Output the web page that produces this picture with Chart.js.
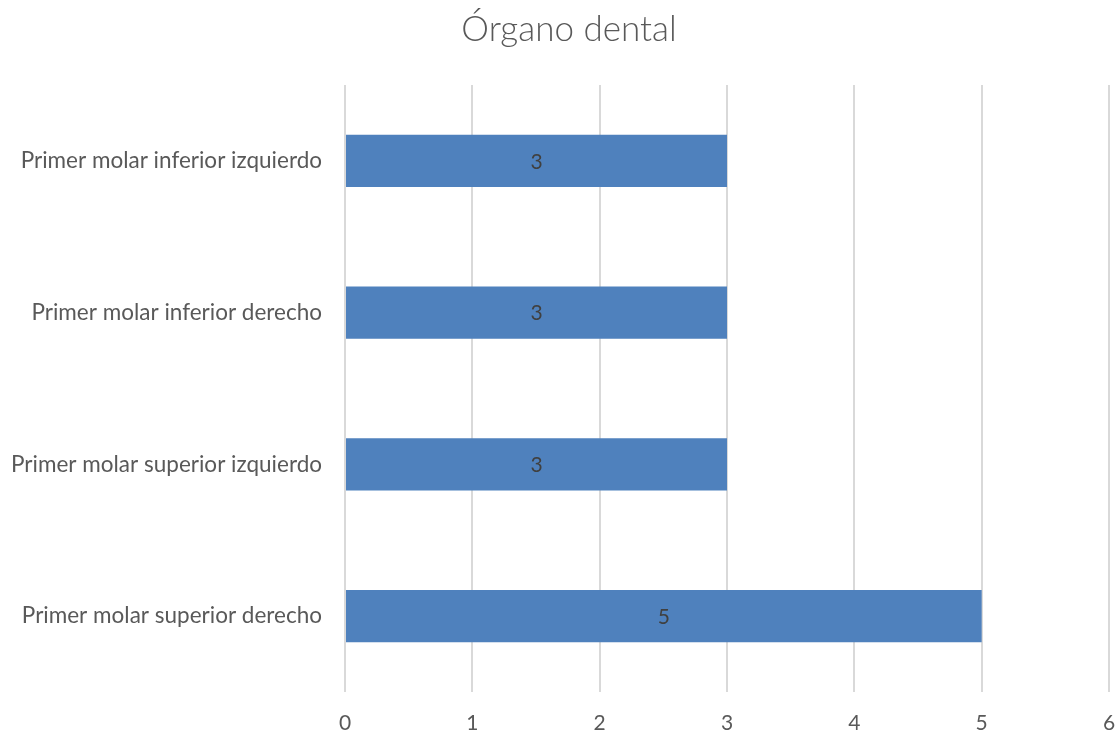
<!DOCTYPE html>
<html>
<head>
<meta charset="utf-8">
<script src="https://cdn.jsdelivr.net/npm/chart.js@4/dist/chart.umd.min.js"></script>
<style>
  html, body { margin: 0; padding: 0; background: #ffffff; }
  #wrap { width: 1120px; height: 736px; }
</style>
</head>
<body>
<div id="wrap"><canvas id="chart" width="1120" height="736"></canvas></div>
<script>
// Teeth affected and how many cases each one had
const categories = [
  'Primer molar inferior izquierdo',
  'Primer molar inferior derecho',
  'Primer molar superior izquierdo',
  'Primer molar superior derecho'
];
const counts = [3, 3, 3, 5];
const xTicks = [0, 1, 2, 3, 4, 5, 6];

const FONT = 'Lato, "Open Sans", sans-serif';
const TEXT = '#595959';

// Writes each bar's value in the middle of the bar
const barValueLabels = {
  id: 'barValueLabels',
  afterDatasetsDraw(chart) {
    const ctx = chart.ctx;
    const meta = chart.getDatasetMeta(0);
    ctx.save();
    ctx.font = '21px ' + FONT;
    ctx.fillStyle = '#404040';
    ctx.textAlign = 'center';
    ctx.textBaseline = 'middle';
    meta.data.forEach((bar, i) => {
      const cx = (bar.x + bar.base) / 2;
      ctx.fillText(String(chart.data.datasets[0].data[i]), cx, bar.y + 1);
    });
    ctx.restore();
  }
};

// Centres the title over the space to the right of the leftmost labels
const titleShift = {
  id: 'titleShift',
  afterLayout(chart) {
    if (chart.titleBlock) chart.titleBlock.left = 29;
  }
};

new Chart(document.getElementById('chart'), {
  type: 'bar',
  data: {
    labels: categories,
    datasets: [{
      data: counts,
      backgroundColor: '#4f81bd',
      borderWidth: 0,
      barPercentage: 1,
      categoryPercentage: 0.343
    }]
  },
  options: {
    indexAxis: 'y',
    responsive: false,
    animation: false,
    layout: { padding: { left: 0, right: 11, top: 0, bottom: 0 } },
    plugins: {
      legend: { display: false },
      tooltip: { enabled: false },
      title: {
        display: true,
        text: 'Órgano dental',
        color: TEXT,
        font: { family: FONT, size: 35, weight: '300', lineHeight: 1.2 },
        padding: { top: 9, bottom: 34 }
      }
    },
    scales: {
      x: {
        min: 0,
        max: 6,
        afterBuildTicks(scale) {
          scale.ticks = xTicks.map(v => ({ value: v }));
        },
        afterFit(scale) {
          scale.height = 44;
          scale.paddingLeft = 0;
          scale.paddingRight = 0;
        },
        border: { display: false },
        grid: { color: '#d9d9d9', lineWidth: 2, drawTicks: false },
        ticks: {
          color: TEXT,
          font: { family: FONT, size: 21 },
          padding: 19
        }
      },
      y: {
        afterFit(scale) { scale.width = 345; },
        border: { display: false },
        grid: { display: false, drawTicks: false },
        ticks: {
          color: TEXT,
          font: { family: FONT, size: 22.5 },
          padding: 23
        }
      }
    }
  },
  plugins: [barValueLabels, titleShift]
});
</script>
</body>
</html>
